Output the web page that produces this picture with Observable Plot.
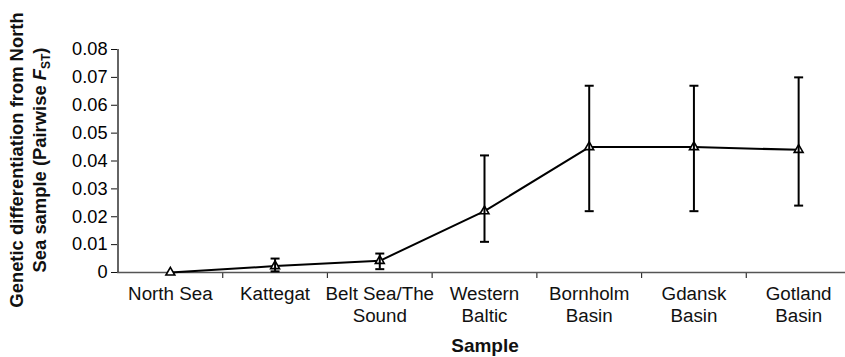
<!DOCTYPE html>
<html>
<head>
<meta charset="utf-8">
<script src="https://cdn.jsdelivr.net/npm/d3@7"></script>
<script src="https://cdn.jsdelivr.net/npm/@observablehq/plot@0.6"></script>
<style>
  html, body { margin: 0; padding: 0; background: #fff; }
  #chart svg { display: block; font-family: Arial, "Liberation Sans", Helvetica, sans-serif; }
</style>
</head>
<body>
<div id="chart"></div>
<script>
const categories = ["North Sea", "Kattegat", "Belt Sea/The\nSound", "Western\nBaltic", "Bornholm\nBasin", "Gdansk\nBasin", "Gotland\nBasin"];
const fst   = [0, 0.0023, 0.0042, 0.022, 0.045, 0.045, 0.044];
const lower = [null, 0.0004, 0.0012, 0.011, 0.022, 0.022, 0.024];
const upper = [null, 0.005, 0.0068, 0.042, 0.067, 0.067, 0.070];
const yTicks = [0, 0.01, 0.02, 0.03, 0.04, 0.05, 0.06, 0.07, 0.08];
const xEdges = [1, 2, 3, 4, 5, 6];
const yTitle1 = "Genetic differentiation from North";
const yTitle2 = "Sea sample (Pairwise ";
const xTitle = "Sample";

const data = categories.map((c, i) => ({c, i, x: i + 0.5, y: fst[i], lo: lower[i], hi: upper[i]}));
const err = data.filter(d => d.lo != null);

const capSymbol = {
  draw(context, size) {
    context.moveTo(-4.5, 0);
    context.lineTo(4.5, 0);
  }
};

const chart = Plot.plot({
  width: 845,
  height: 357,
  marginLeft: 117,
  marginRight: 0,
  marginTop: 49,
  marginBottom: 85,
  style: {fontFamily: "Arial, 'Liberation Sans', sans-serif", fontSize: "18px", color: "#000", background: "#fff"},
  x: {type: "linear", domain: [0, 7], range: [117.5, 850.5], axis: null},
  y: {type: "linear", domain: [0, 0.08], axis: null},
  marks: [
    // x axis with edge ticks
    Plot.axisX({ticks: xEdges, tickFormat: () => "", tickSize: 6, stroke: "#333", strokeWidth: 1.2, label: null}),
    Plot.ruleY([0], {stroke: "#555", strokeWidth: 1.5}),
    // y axis
    Plot.axisY({ticks: yTicks, tickFormat: d => d === 0 ? "0" : d.toFixed(2), tickSize: 6, tickPadding: 4, fontSize: 18.2, stroke: "#111", label: null}),
    Plot.ruleX([0], {stroke: "#111", strokeWidth: 1.3}),
    // category labels
    Plot.text(data, {x: "x", y: 0, text: "c", lineAnchor: "top", lineHeight: 1.21, dy: 11, fontSize: 18.8, fill: "#111"}),
    // line and markers
    Plot.line(data, {x: "x", y: "y", stroke: "#000", strokeWidth: 2}),
    Plot.dot(data, {x: "x", y: "y", symbol: "triangle", r: 3.3, fill: "#fff", stroke: "#000", strokeWidth: 1.6}),
    // error bars
    Plot.ruleX(err, {x: "x", y1: "lo", y2: "hi", stroke: "#000", strokeWidth: 2}),
    Plot.dot(err, {x: "x", y: "lo", symbol: capSymbol, fill: "none", stroke: "#000", strokeWidth: 2}),
    Plot.dot(err, {x: "x", y: "hi", symbol: capSymbol, fill: "none", stroke: "#000", strokeWidth: 2})
  ]
});

const svg = d3.select(chart);

// y title
const yt = svg.append("text")
  .attr("transform", "translate(17,160) rotate(-90)")
  .attr("text-anchor", "middle")
  .attr("font-weight", "bold")
  .attr("font-size", 18.4)
  .attr("fill", "#111");
yt.append("tspan").attr("x", 0).attr("dy", "0.35em").text(yTitle1);
const yt2 = svg.append("text")
  .attr("transform", "translate(40,160) rotate(-90)")
  .attr("text-anchor", "middle")
  .attr("font-weight", "bold")
  .attr("font-size", 18.4)
  .attr("fill", "#111");
yt2.append("tspan").attr("x", 0).attr("dy", "0.35em").text(yTitle2);
yt2.append("tspan").attr("font-style", "italic").text("F");
yt2.append("tspan").attr("font-size", 12).attr("dy", "4").text("ST");
yt2.append("tspan").attr("dy", "-4").text(")");

// x title
svg.append("text")
  .attr("x", 485).attr("y", 351.5)
  .attr("text-anchor", "middle")
  .attr("font-weight", "bold")
  .attr("font-size", 19)
  .attr("fill", "#111")
  .text(xTitle);

document.getElementById("chart").appendChild(chart);
</script>
</body>
</html>
